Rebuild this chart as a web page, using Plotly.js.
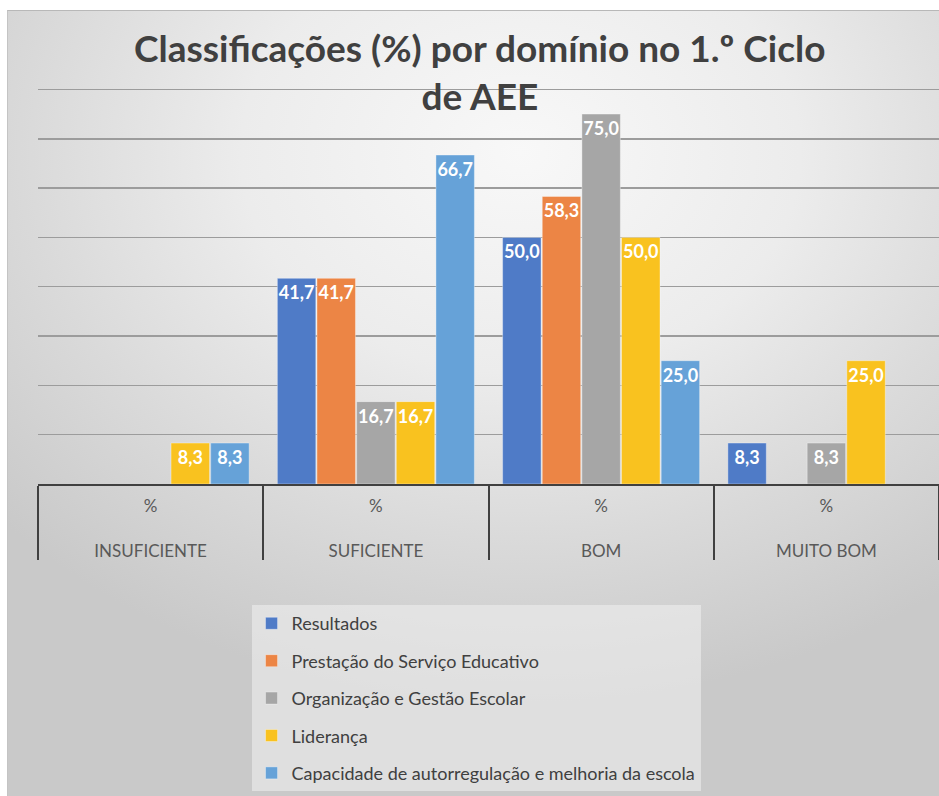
<!DOCTYPE html>
<html>
<head>
<meta charset="utf-8">
<script src="https://cdn.plot.ly/plotly-3.0.1.min.js"></script>
<style>
  html, body { margin: 0; padding: 0; background: #ffffff; }
  #wrap { position: relative; width: 939px; height: 796px; overflow: hidden; }
  #bg {
    position: absolute; left: 7px; top: 10px; width: 932px; height: 786px;
    border-top: 1px solid #b8b8b8; border-left: 1px solid #c4c4c4;
    background: radial-gradient(ellipse 75% 70% at 55% 18%, #f8f8f8 0%, #ececec 40%, #dadada 70%, #c9c9c9 100%);
  }
  #chart { position: absolute; left: 0; top: 0; width: 939px; height: 796px; }
</style>
</head>
<body>
<div id="wrap">
  <div id="bg"></div>
  <div id="chart"></div>
</div>
<script>
// ---- data ----
const categories = ["INSUFICIENTE", "SUFICIENTE", "BOM", "MUITO BOM"];
const unitRow = ["%", "%", "%", "%"];

const seriesNames = [
  "Resultados",
  "Prestação do Serviço Educativo",
  "Organização e Gestão Escolar",
  "Liderança",
  "Capacidade de autorregulação e melhoria da escola"
];

const resultados   = [null, 41.7, 50.0, 8.3];
const prestacao    = [null, 41.7, 58.3, null];
const organizacao  = [null, 16.7, 75.0, 8.3];
const lideranca    = [8.3, 16.7, 50.0, 25.0];
const capacidade   = [8.3, 66.7, 25.0, null];

const seriesValues = [resultados, prestacao, organizacao, lideranca, capacidade];
const seriesColors = ["#4F7BC7", "#EC8545", "#A6A6A6", "#F9C21F", "#66A2D8"];

// two-row category labels: unit row above the category name
const tickLabels = categories.map((c, i) => unitRow[i] + "<br><br>" + c);

// ---- traces ----
const traces = seriesValues.map((vals, i) => ({
  type: "bar",
  name: seriesNames[i],
  legendgroup: "g" + i,
  x: categories,
  y: vals,
  marker: { color: seriesColors[i], line: { color: "rgba(255,255,255,0.35)", width: 1 } },
  texttemplate: "%{y:.1f}",
  textposition: "inside",
  insidetextanchor: "end",
  textangle: 0,
  constraintext: "none",
  textfont: { family: "Lato, 'Open Sans', sans-serif", size: 18, color: "#ffffff", weight: "bold" },
  hoverinfo: "skip"
}));

const layout = {
  width: 939,
  height: 796,
  paper_bgcolor: "rgba(0,0,0,0)",
  plot_bgcolor: "rgba(0,0,0,0)",
  separators: ",.",
  margin: { l: 38, r: 0, t: 87, b: 312 },
  title: {
    text: "Classificações (%) por domínio no 1.º Ciclo<br>de AEE",
    font: { family: "Lato, 'Open Sans', sans-serif", size: 37, color: "#404040", weight: "bold" },
    x: 0.511, xanchor: "center",
    y: 0.922, yanchor: "top"
  },
  bargap: 0.12,
  bargroupgap: 0.03,
  barmode: "group",
  xaxis: {
    type: "category",
    tickmode: "array",
    tickvals: categories,
    ticktext: tickLabels,
    tickson: "boundaries",
    ticks: "outside",
    ticklen: 74,
    tickwidth: 2,
    tickcolor: "#404040",
    ticklabelstandoff: 6,
    showline: true,
    linecolor: "#404040",
    linewidth: 2,
    showgrid: false,
    tickfont: { family: "Lato, 'Open Sans', sans-serif", size: 17, color: "#595959" },
    fixedrange: true
  },
  yaxis: {
    range: [0, 80.5],
    dtick: 10,
    showgrid: true,
    gridcolor: "#9c9c9c",
    gridwidth: 1.5,
    showticklabels: false,
    zeroline: false,
    showline: false,
    fixedrange: true
  },
  showlegend: true,
  legend: {
    x: 0.237, xanchor: "left",
    y: -0.305, yanchor: "top",
    bgcolor: "rgba(238,238,238,0.6)",
    borderwidth: 0,
    font: { family: "Lato, 'Open Sans', sans-serif", size: 18, color: "#404040" },
    tracegroupgap: 11,
    itemclick: false,
    itemdoubleclick: false
  }
};

Plotly.newPlot("chart", traces, layout, { displayModeBar: false, staticPlot: true });
</script>
</body>
</html>
